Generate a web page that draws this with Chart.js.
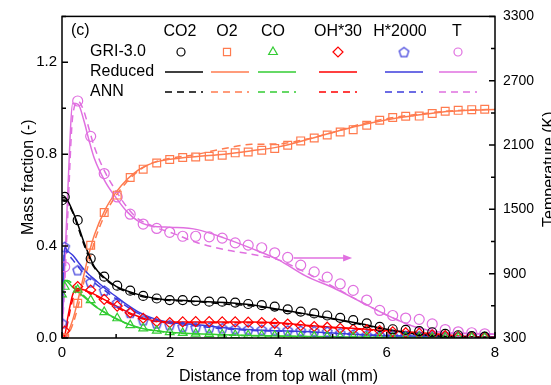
<!DOCTYPE html>
<html>
<head>
<meta charset="utf-8">
<script src="https://cdn.jsdelivr.net/npm/chart.js@4.4.0/dist/chart.umd.min.js"></script>
<style>
  html, body { margin: 0; padding: 0; background: #fff; }
  #wrap { width: 551px; height: 385px; }
</style>
</head>
<body>
<div id="wrap"><canvas id="chart" width="551" height="385"></canvas></div>
<script>
// distance from top wall (mm): line grid and GRI-3.0 marker grid
const distLine = [0, 0.05, 0.1, 0.2, 0.3, 0.4, 0.5, 0.6, 0.8, 1.0, 1.2, 1.4, 1.6, 1.8, 2.0, 2.5, 3.0, 3.5, 4.0, 4.5, 5.0, 5.5, 6.0, 6.5, 7.0, 7.5, 8.0];
const distGri = [0, 0.05, 0.29, 0.53, 0.78, 1.02, 1.26, 1.50, 1.75, 1.99, 2.23, 2.47, 2.72, 2.96, 3.20, 3.44, 3.69, 3.93, 4.17, 4.41, 4.66, 4.90, 5.14, 5.38, 5.63, 5.87, 6.11, 6.35, 6.60, 6.84, 7.08, 7.32, 7.57, 7.81];

// GRI-3.0 (markers)
const co2Gri = [0.60, 0.614, 0.513, 0.346, 0.267, 0.228, 0.206, 0.183, 0.172, 0.165, 0.165, 0.162, 0.158, 0.158, 0.154, 0.148, 0.143, 0.137, 0.125, 0.115, 0.107, 0.098, 0.088, 0.078, 0.064, 0.048, 0.038, 0.035, 0.030, 0.025, 0.018, 0.012, 0.008, 0.006];
const o2Gri = [0, 0, 0.151, 0.404, 0.546, 0.622, 0.699, 0.735, 0.762, 0.777, 0.786, 0.788, 0.791, 0.796, 0.806, 0.810, 0.817, 0.825, 0.839, 0.858, 0.871, 0.884, 0.897, 0.907, 0.926, 0.948, 0.960, 0.965, 0.966, 0.977, 0.987, 0.991, 0.994, 0.996];
const coGri = [0.19, 0.223, 0.21, 0.165, 0.113, 0.086, 0.056, 0.042, 0.032, 0.026, 0.022, 0.019, 0.017, 0.015, 0.013, 0.012, 0.011, 0.010, 0.009, 0.008, 0.007, 0.006, 0.005, 0.005, 0.004, 0.004, 0.003, 0.003, 0.003, 0.002, 0.002, 0.002, 0.001, 0.001];
const ohGri = [0, 0.03, 0.224, 0.209, 0.168, 0.139, 0.110, 0.086, 0.071, 0.067, 0.070, 0.071, 0.071, 0.070, 0.070, 0.069, 0.067, 0.064, 0.061, 0.054, 0.050, 0.047, 0.042, 0.038, 0.035, 0.032, 0.027, 0.023, 0.020, 0.014, 0.010, 0.006, 0.004, 0.003];
const hGri = [0.065, 0.397, 0.296, 0.243, 0.207, 0.154, 0.110, 0.078, 0.064, 0.057, 0.050, 0.047, 0.045, 0.043, 0.040, 0.038, 0.036, 0.035, 0.034, 0.032, 0.030, 0.028, 0.022, 0.016, 0.013, 0.011, 0.010, 0.010, 0.009, 0.008, 0.008, 0.007, 0.006, 0.005];
const tGri = [300, 964, 2511, 2181, 1834, 1616, 1455, 1363, 1322, 1286, 1249, 1249, 1243, 1232, 1187, 1166, 1142, 1095, 1052, 979, 917, 868, 804, 744, 654, 557, 510, 486, 474, 431, 379, 358, 349, 339];

// Reduced mechanism (solid lines)
const co2Red = [0.61, 0.61, 0.60, 0.55, 0.49, 0.42, 0.36, 0.31, 0.26, 0.225, 0.205, 0.19, 0.178, 0.17, 0.166, 0.16, 0.155, 0.145, 0.125, 0.105, 0.085, 0.063, 0.038, 0.018, 0.008, 0.004, 0.002];
const o2Red = [0, 0, 0.02, 0.08, 0.17, 0.27, 0.37, 0.45, 0.56, 0.635, 0.69, 0.73, 0.755, 0.77, 0.778, 0.79, 0.80, 0.815, 0.832, 0.862, 0.895, 0.925, 0.95, 0.968, 0.983, 0.991, 0.995];
const coRed = [0.20, 0.25, 0.245, 0.22, 0.20, 0.18, 0.16, 0.14, 0.11, 0.085, 0.063, 0.047, 0.036, 0.03, 0.025, 0.018, 0.014, 0.011, 0.009, 0.007, 0.005, 0.004, 0.003, 0.002, 0.002, 0.001, 0.001];
const ohRed = [0, 0.01, 0.08, 0.19, 0.215, 0.21, 0.20, 0.19, 0.165, 0.14, 0.115, 0.095, 0.08, 0.072, 0.07, 0.07, 0.07, 0.07, 0.066, 0.056, 0.047, 0.04, 0.032, 0.025, 0.016, 0.006, 0.003];
const hRed = [0.07, 0.395, 0.38, 0.36, 0.33, 0.30, 0.275, 0.255, 0.215, 0.18, 0.145, 0.115, 0.093, 0.077, 0.067, 0.058, 0.045, 0.036, 0.032, 0.028, 0.022, 0.015, 0.010, 0.008, 0.006, 0.005, 0.004];
const tRed = [300, 950, 1586, 2490, 2480, 2336, 2143, 1971, 1757, 1607, 1479, 1393, 1350, 1337, 1333, 1311, 1232, 1136, 1029, 879, 771, 643, 514, 407, 354, 343, 336];

// ANN (dashed lines)
const co2Ann = [0.60, 0.60, 0.59, 0.545, 0.48, 0.41, 0.35, 0.305, 0.255, 0.222, 0.20, 0.185, 0.175, 0.167, 0.163, 0.158, 0.148, 0.14, 0.122, 0.103, 0.083, 0.06, 0.036, 0.017, 0.008, 0.004, 0.002];
const o2Ann = [0, 0, 0.01, 0.06, 0.14, 0.24, 0.33, 0.42, 0.54, 0.62, 0.68, 0.725, 0.755, 0.772, 0.782, 0.80, 0.825, 0.843, 0.845, 0.865, 0.895, 0.93, 0.955, 0.972, 0.985, 0.992, 0.995];
const coAnn = [0.20, 0.25, 0.25, 0.235, 0.21, 0.185, 0.163, 0.142, 0.11, 0.083, 0.062, 0.046, 0.036, 0.029, 0.024, 0.017, 0.013, 0.010, 0.008, 0.006, 0.005, 0.004, 0.003, 0.002, 0.002, 0.001, 0.001];
const ohAnn = [0, 0.005, 0.06, 0.17, 0.21, 0.208, 0.198, 0.186, 0.16, 0.135, 0.11, 0.09, 0.077, 0.07, 0.066, 0.066, 0.066, 0.066, 0.063, 0.054, 0.045, 0.038, 0.03, 0.022, 0.014, 0.006, 0.003];
const hAnn = [0.07, 0.39, 0.37, 0.34, 0.31, 0.28, 0.26, 0.24, 0.205, 0.17, 0.137, 0.108, 0.088, 0.073, 0.063, 0.052, 0.04, 0.033, 0.03, 0.026, 0.02, 0.014, 0.010, 0.008, 0.006, 0.005, 0.004];
const tAnn = [300, 800, 1371, 2379, 2507, 2421, 2250, 2079, 1843, 1671, 1521, 1414, 1361, 1318, 1286, 1189, 1125, 1082, 1029, 911, 782, 643, 514, 407, 354, 343, 336];

// arrow pointing at the temperature axis: [xStart, xEnd, y]
const arrowT = [4.28, 5.36, 0.348];

const FONT = '"Liberation Sans", Arial, Helvetica, sans-serif';
const COLORS = {
    co2: '#000000',
    o2: '#FF7B4F',
    co: '#33CC33',
    oh: '#FF0000',
    h: '#3C3CDC',
    t: '#E070E0'
};

// Chart.js has no pentagon point style, so make a small image for it
function makePentagon(color) {
    const c = document.createElement('canvas');
    c.width = 13;
    c.height = 13;
    const g = c.getContext('2d');
    g.strokeStyle = color;
    g.lineWidth = 1.2;
    g.beginPath();
    for (let i = 0; i < 5; i++) {
        const a = -Math.PI / 2 + i * 2 * Math.PI / 5;
        const px = 6.5 + 5 * Math.cos(a);
        const py = 7 + 5 * Math.sin(a);
        if (i === 0) g.moveTo(px, py); else g.lineTo(px, py);
    }
    g.closePath();
    g.stroke();
    return c;
}
const pentagon = makePentagon(COLORS.h);

function pts(xs, ys) {
    return xs.map(function(x, i) { return { x: x, y: ys[i] }; });
}

function lineSet(label, xs, ys, color, dashed, axis) {
    return {
        label: label,
        data: pts(xs, ys),
        yAxisID: axis || 'y',
        showLine: true,
        borderColor: color,
        borderWidth: 1.5,
        borderDash: dashed ? [7, 5] : [],
        pointRadius: 0,
        fill: false,
        cubicInterpolationMode: 'monotone'
    };
}

function markerSet(label, ys, color, style, radius, axis) {
    return {
        label: label,
        data: pts(distGri, ys),
        yAxisID: axis || 'y',
        showLine: false,
        pointStyle: style,
        pointRadius: radius,
        pointBorderWidth: 1.2,
        pointBorderColor: color,
        pointBackgroundColor: 'rgba(0,0,0,0)',
        borderColor: color
    };
}

const datasets = [
    markerSet('CO2 GRI', co2Gri, COLORS.co2, 'circle', 4.5),
    markerSet('O2 GRI', o2Gri, COLORS.o2, 'rect', 5.5),
    markerSet('CO GRI', coGri, COLORS.co, 'triangle', 5),
    markerSet('OH GRI', ohGri, COLORS.oh, 'rectRot', 5),
    markerSet('H GRI', hGri, COLORS.h, pentagon, 5),
    markerSet('T GRI', tGri, COLORS.t, 'circle', 5, 'y2'),
    lineSet('CO2 Reduced', distLine, co2Red, COLORS.co2, false),
    lineSet('O2 Reduced', distLine, o2Red, COLORS.o2, false),
    lineSet('CO Reduced', distLine, coRed, COLORS.co, false),
    lineSet('OH Reduced', distLine, ohRed, COLORS.oh, false),
    lineSet('H Reduced', distLine, hRed, COLORS.h, false),
    lineSet('T Reduced', distLine, tRed, COLORS.t, false, 'y2'),
    lineSet('CO2 ANN', distLine, co2Ann, COLORS.co2, true),
    lineSet('O2 ANN', distLine, o2Ann, COLORS.o2, true),
    lineSet('CO ANN', distLine, coAnn, COLORS.co, true),
    lineSet('OH ANN', distLine, ohAnn, COLORS.oh, true),
    lineSet('H ANN', distLine, hAnn, COLORS.h, true),
    lineSet('T ANN', distLine, tAnn, COLORS.t, true, 'y2')
];

// frame, inward ticks, axis titles and the arrow
const framePlugin = {
    id: 'frame',
    afterDatasetsDraw: function(chart) {
        const ctx = chart.ctx;
        const a = chart.chartArea;
        const sx = chart.scales.x, sy = chart.scales.y, sy2 = chart.scales.y2;
        ctx.save();

        // arrow
        const x0 = sx.getPixelForValue(arrowT[0]);
        const x1 = sx.getPixelForValue(arrowT[1]);
        const ya = sy.getPixelForValue(arrowT[2]);
        ctx.strokeStyle = COLORS.t;
        ctx.fillStyle = COLORS.t;
        ctx.lineWidth = 1.5;
        ctx.beginPath();
        ctx.moveTo(x0, ya);
        ctx.lineTo(x1 - 6, ya);
        ctx.stroke();
        ctx.beginPath();
        ctx.moveTo(x1, ya);
        ctx.lineTo(x1 - 9, ya - 3.5);
        ctx.lineTo(x1 - 9, ya + 3.5);
        ctx.closePath();
        ctx.fill();

        // frame
        ctx.strokeStyle = '#000';
        ctx.lineWidth = 1.5;
        ctx.strokeRect(a.left, a.top, a.right - a.left, a.bottom - a.top);

        // inward ticks
        ctx.beginPath();
        sx.ticks.forEach(function(t) {
            const p = sx.getPixelForValue(t.value);
            const len = Math.round(t.value) % 2 === 0 ? 6 : 4;
            ctx.moveTo(p, a.bottom);
            ctx.lineTo(p, a.bottom - len);
        });
        sy.ticks.forEach(function(t) {
            const p = sy.getPixelForValue(t.value);
            const len = Math.round(t.value * 10) % 4 === 0 ? 6 : 4;
            ctx.moveTo(a.left, p);
            ctx.lineTo(a.left + len, p);
        });
        sy2.ticks.forEach(function(t) {
            const p = sy2.getPixelForValue(t.value);
            const len = (Math.round(t.value) - 300) % 600 === 0 ? 6 : 4;
            ctx.moveTo(a.right, p);
            ctx.lineTo(a.right - len, p);
        });
        ctx.stroke();

        // axis titles
        ctx.fillStyle = '#000';
        ctx.font = '16px ' + FONT;
        ctx.textAlign = 'center';
        ctx.textBaseline = 'middle';
        ctx.fillText('Distance from top wall (mm)', (a.left + a.right) / 2, 377);
        ctx.save();
        ctx.translate(29, (a.top + a.bottom) / 2);
        ctx.rotate(-Math.PI / 2);
        ctx.fillText('Mass fraction (-)', 0, 0);
        ctx.restore();
        ctx.save();
        ctx.translate(550, (a.top + a.bottom) / 2 - 8);
        ctx.rotate(-Math.PI / 2);
        ctx.fillText('Temperature (K)', 0, 0);
        ctx.restore();

        ctx.restore();
    }
};

// the legend table in the top of the plot
const tableLegend = {
    id: 'tableLegend',
    afterDraw: function(chart) {
        const ctx = chart.ctx;
        const cols = [
            { text: 'CO2', head: 180, mark: 181, line: 184, color: COLORS.co2, style: 'circle', r: 4 },
            { text: 'O2', head: 227, mark: 227, line: 230, color: COLORS.o2, style: 'rect', r: 5 },
            { text: 'CO', head: 273, mark: 273, line: 277, color: COLORS.co, style: 'triangle', r: 5 },
            { text: 'OH*30', head: 338, mark: 338, line: 338, color: COLORS.oh, style: 'rectRot', r: 5 },
            { text: 'H*2000', head: 400, mark: 404, line: 404, color: COLORS.h, style: pentagon, r: 5 },
            { text: 'T', head: 457, mark: 458, line: 458, color: COLORS.t, style: 'circle', r: 4 }
        ];
        ctx.save();
        ctx.fillStyle = '#000';
        ctx.font = '16px ' + FONT;
        ctx.textBaseline = 'middle';
        ctx.textAlign = 'left';
        ctx.fillText('(c)', 71, 31);
        ctx.fillText('GRI-3.0', 90, 52);
        ctx.fillText('Reduced', 90, 72);
        ctx.fillText('ANN', 90, 92);
        ctx.textAlign = 'center';
        cols.forEach(function(c) {
            ctx.fillStyle = '#000';
            ctx.fillText(c.text, c.head, 32);
            // hollow marker
            ctx.strokeStyle = c.color;
            ctx.fillStyle = 'rgba(0,0,0,0)';
            ctx.lineWidth = 1.2;
            Chart.helpers.drawPoint(ctx, { pointStyle: c.style, radius: c.r, borderWidth: 1.2, rotation: 0 }, c.mark, 52);
            ctx.lineWidth = 1.5;
            ctx.setLineDash([]);
            ctx.beginPath();
            ctx.moveTo(c.line - 19, 72);
            ctx.lineTo(c.line + 19, 72);
            ctx.stroke();
            ctx.setLineDash([7, 5]);
            ctx.beginPath();
            ctx.moveTo(c.line - 19, 92);
            ctx.lineTo(c.line + 19, 92);
            ctx.stroke();
            ctx.setLineDash([]);
        });
        ctx.restore();
    }
};

Chart.defaults.font.family = FONT;
Chart.defaults.color = '#000';

new Chart(document.getElementById('chart'), {
    type: 'scatter',
    data: { datasets: datasets },
    options: {
        responsive: false,
        animation: false,
        layout: { padding: { top: 15, left: 0, right: 0, bottom: 0 } },
        plugins: {
            legend: { display: false },
            tooltip: { enabled: false }
        },
        scales: {
            x: {
                type: 'linear',
                min: 0,
                max: 8,
                grid: { display: false, drawTicks: false },
                border: { display: false },
                ticks: {
                    stepSize: 1,
                    padding: 6,
                    autoSkip: false,
                    maxRotation: 0,
                    font: { size: 15 },
                    callback: function(v) { return Math.round(v) % 2 === 0 ? String(v) : ''; }
                },
                afterFit: function(s) { s.height = 47; }
            },
            y: {
                type: 'linear',
                position: 'left',
                min: 0,
                max: 1.4,
                grid: { display: false, drawTicks: false },
                border: { display: false },
                ticks: {
                    stepSize: 0.2,
                    padding: 5,
                    autoSkip: false,
                    font: { size: 15 },
                    callback: function(v) { return Math.round(v * 10) % 4 === 0 ? v.toFixed(1) : ''; }
                },
                afterFit: function(s) { s.width = 62; }
            },
            y2: {
                type: 'linear',
                position: 'right',
                min: 300,
                max: 3300,
                grid: { display: false, drawTicks: false },
                border: { display: false },
                ticks: {
                    stepSize: 300,
                    padding: 8,
                    autoSkip: false,
                    font: { size: 14 },
                    callback: function(v) { return (Math.round(v) - 300) % 600 === 0 ? String(v) : ''; }
                },
                afterFit: function(s) { s.width = 56; }
            }
        }
    },
    plugins: [framePlugin, tableLegend]
});
</script>
</body>
</html>
